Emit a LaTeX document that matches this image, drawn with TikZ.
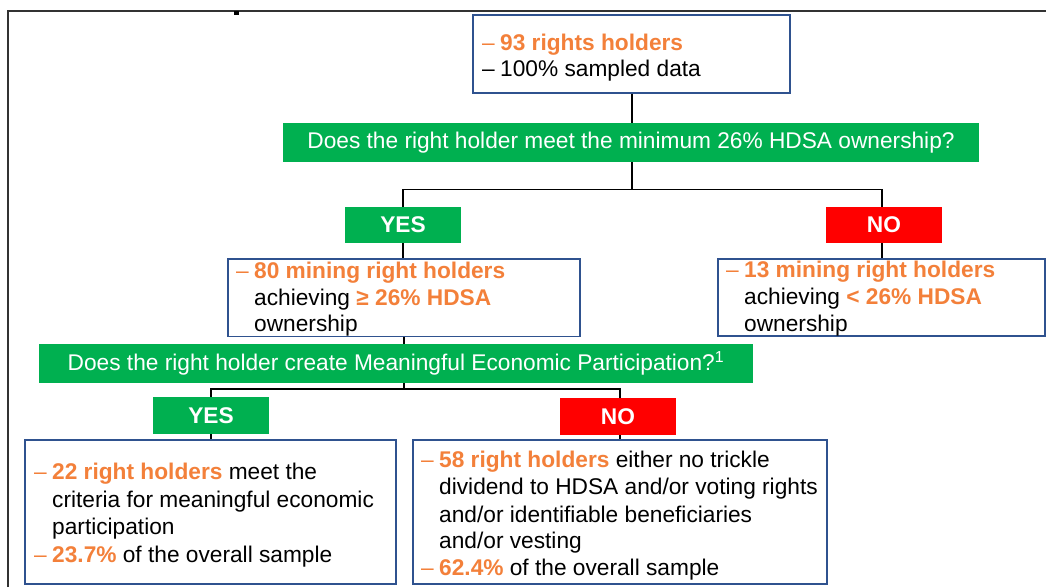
\documentclass[tikz,border=0pt]{standalone}
\usepackage{fontspec}
\setmainfont{Liberation Sans}
\definecolor{grn}{RGB}{0,176,80}
\definecolor{rd}{RGB}{255,0,0}
\definecolor{org}{RGB}{243,128,58}
\definecolor{bluebd}{RGB}{47,82,143}
\definecolor{framec}{RGB}{50,50,50}
\newcommand\dsh{\makebox[18pt][l]{\textendash}}
\newcommand\hl[1]{\textcolor{org}{\bfseries #1}}
\begin{document}
\begin{tikzpicture}[x=1pt,y=-1pt,
  every node/.style={font=\fontsize{22.7}{27}\selectfont},
  qbox/.style={fill=grn, text=white, inner sep=0, minimum height=39},
  yesbox/.style={fill=grn, text=white, font=\fontsize{22.7}{27}\selectfont\bfseries, minimum width=116, minimum height=36, inner sep=0},
  nobox/.style={fill=rd, text=white, font=\fontsize{22.7}{27}\selectfont\bfseries, minimum width=116, minimum height=36, inner sep=0},
  infobox/.style={draw=bluebd, line width=1.1pt, fill=white, inner sep=0},
  txt/.style={anchor=base west, inner sep=0},
  conn/.style={draw=black, line width=1.5pt}
]
\useasboundingbox (0,0) rectangle (1046,587);
% frame
\draw[framec, line width=1.2pt] (8,587) -- (8,11) -- (1046,11);
\fill[black] (234,11) rectangle (239,14.5);

% boxes
\node[infobox, minimum width=317, minimum height=78] (top) at (631.5,54) {};
\node[qbox, minimum width=696] (q1) at (631,142.5) {Does the right holder meet the minimum 26\% HDSA ownership?};
\node[yesbox] (yes1) at (403,225) {YES};
\node[nobox] (no1) at (884,225) {NO};
\node[infobox, minimum width=352, minimum height=77.5] (b80) at (404,297.75) {};
\node[infobox, minimum width=327, minimum height=77] (b13) at (881.5,297.5) {};
\node[qbox, minimum width=714] (q2) at (396,363.5) {Does the right holder create Meaningful Economic Participation?\textsuperscript{1}};
\node[yesbox, minimum height=37] (yes2) at (211,415.5) {YES};
\node[nobox, minimum height=37] (no2) at (618,416.5) {NO};
\node[infobox, minimum width=371, minimum height=144] (b22) at (210.5,512) {};
\node[infobox, minimum width=414, minimum height=144] (b58) at (620,512) {};

% junctions
\coordinate (j1) at (632,189.5);
\coordinate (j2) at (404,389);

% connectors
\draw[conn] (top.south -| j1) -- (q1.north -| j1);
\draw[conn] (q1.south -| j1) -- (j1);
\draw[conn] (yes1.north) |- (j1) -| (no1.north -| 882,0);
\draw[conn] (yes1.south) -- (b80.north -| yes1.south);
\draw[conn] (no1.south -| 882,0) -- (b13.north -| 882,0);
\draw[conn] (b80.south) -- (q2.north -| b80.south);
\draw[conn] (q2.south -| j2) -- (j2);
\draw[conn] (yes2.north) |- (j2) -| (no2.north -| 620,0);
\draw[conn] (yes2.south) -- (b22.north -| yes2.south);
\draw[conn] (no2.south -| 620,0) -- (b58.north -| 620,0);

% texts
\node[txt] (t1a) at (482,50) {\textcolor{org}{\dsh}\hl{93 rights holders}};
\node[txt] (t1b) at (482,76) {\dsh 100\% sampled data};

\node[txt] (t2a) at (236,278) {\textcolor{org}{\dsh}\hl{80 mining right holders}};
\node[txt] (t2b) at (254,305) {achieving \hl{≥ 26\% HDSA}};
\node[txt] (t2c) at (254,331.5) {ownership};

\node[txt] (t3a) at (726,277) {\textcolor{org}{\dsh}\hl{13 mining right holders}};
\node[txt] (t3b) at (744,304) {achieving \hl{< 26\% HDSA}};
\node[txt] (t3c) at (744,331) {ownership};

\node[txt] (t4a) at (34,479) {\textcolor{org}{\dsh}\hl{22 right holders} meet the};
\node[txt] (t4b) at (52,507) {criteria for meaningful economic};
\node[txt] (t4c) at (52,534) {participation};
\node[txt] (t4d) at (34,562) {\textcolor{org}{\dsh}\hl{23.7\%} of the overall sample};

\node[txt] (t5a) at (421,467) {\textcolor{org}{\dsh}\hl{58 right holders} either no trickle};
\node[txt] (t5b) at (439,494) {dividend to HDSA and/or voting rights};
\node[txt] (t5c) at (439,522) {and/or identifiable beneficiaries};
\node[txt] (t5d) at (439,548) {and/or vesting};
\node[txt] (t5e) at (421,575) {\textcolor{org}{\dsh}\hl{62.4\%} of the overall sample};
\end{tikzpicture}
\end{document}
